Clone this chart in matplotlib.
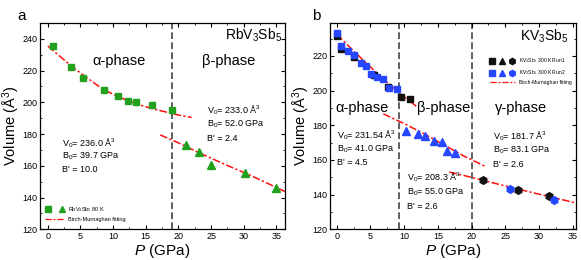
import matplotlib
matplotlib.use('Agg')
import matplotlib.pyplot as plt
from matplotlib.lines import Line2D
from matplotlib.legend_handler import HandlerTuple
from matplotlib.ticker import MultipleLocator

plt.rcParams['font.family'] = ['Liberation Sans', 'DejaVu Sans']
plt.rcParams['mathtext.fontset'] = 'custom'
plt.rcParams['mathtext.rm'] = 'Liberation Sans'
plt.rcParams['mathtext.it'] = 'Liberation Sans:italic'

# ---- panel a: RbV3Sb5, 80 K ----
a_alpha_P = [0.8, 3.5, 5.4, 8.6, 10.8, 12.2, 13.5, 16.0, 19.0]
a_alpha_V = [235.6, 222.5, 215.6, 207.8, 204.0, 201.0, 200.0, 198.6, 195.2]
a_beta_P = [21.2, 23.1, 25.0, 30.2, 35.0]
a_beta_V = [173.0, 168.8, 160.6, 155.6, 146.0]

# fitted curves
a_fit1_P = [0, 2, 4, 6, 8, 10, 12, 14, 16, 18, 20, 22]
a_fit1_V = [235.5, 228.5, 221.5, 215.5, 209.5, 205.0, 201.5, 198.5, 196.0, 194.0, 192.0, 190.5]
a_fit2_P = [17.2, 20, 22.5, 25, 27.5, 30, 32.5, 35, 36.3]
a_fit2_V = [179.5, 174.5, 169.5, 164.8, 160.2, 155.8, 151.2, 146.3, 143.8]
a_bound = [19.0]

# ---- panel b: KV3Sb5, 300 K ----
b_r1_sq_P = [0.0, 0.65, 2.6, 5.5, 7.6, 9.6, 10.8]
b_r1_sq_V = [231.6, 223.9, 219.3, 208.9, 202.0, 196.2, 195.0]
b_r2_sq_P = [0.0, 0.7, 1.6, 2.5, 3.6, 4.4, 5.1, 6.0, 6.9, 7.7, 9.0]
b_r2_sq_V = [233.1, 225.8, 223.1, 220.6, 216.2, 214.3, 209.6, 207.7, 206.9, 201.6, 201.0]
b_r2_tri_P = [10.3, 12.0, 13.1, 14.4, 15.6, 16.3, 17.5]
b_r2_tri_V = [176.6, 174.9, 173.7, 170.9, 170.5, 165.1, 163.8]
b_r1_hex_P = [21.7, 26.9, 31.5]
b_r1_hex_V = [148.6, 142.7, 139.5]
b_r2_hex_P = [25.7, 32.3]
b_r2_hex_V = [143.3, 137.1]

b_fit1_P = [0, 2, 4, 6, 8, 10, 11.8]
b_fit1_V = [232.5, 224.8, 217.3, 210.0, 203.0, 196.5, 191.0]
b_fit2_P = [6.9, 10, 13, 16, 19, 22.2]
b_fit2_V = [186.6, 181.0, 175.0, 168.5, 162.0, 156.0]
b_fit3_P = [16.7, 20, 25, 30, 35.5]
b_fit3_V = [153.0, 150.0, 145.0, 140.3, 135.2]
b_bounds = [9.25, 20.0]

green = '#22a11e'
blue = '#2447ff'
black = '#111111'
red = '#ff1010'
fit_ls = (0, (5, 1.5, 1.5, 1.5))

fig = plt.figure(figsize=(5.81, 2.6), dpi=100)
ax_a = fig.add_axes([0.0688, 0.118, 0.4217, 0.7935])
ax_b = fig.add_axes([0.568, 0.118, 0.4234, 0.7935])


def style(ax):
    ax.tick_params(which='both', direction='in', top=True, right=True, labelsize=6.5, pad=2)
    ax.tick_params(which='major', length=3, width=0.8)
    ax.tick_params(which='minor', length=1.6, width=0.6)
    ax.xaxis.set_major_locator(MultipleLocator(5))
    ax.xaxis.set_minor_locator(MultipleLocator(2.5))
    ax.yaxis.set_major_locator(MultipleLocator(20))
    ax.yaxis.set_minor_locator(MultipleLocator(10))
    for s in ax.spines.values():
        s.set_linewidth(0.9)
    ax.set_xlabel('$P$ (GPa)', fontsize=11, labelpad=1)
    ax.set_ylabel('Volume (Å$^3$)', fontsize=10.5, labelpad=0)


# panel a
ax = ax_a
ax.plot(a_fit1_P, a_fit1_V, color=red, lw=1.1, ls=fit_ls, zorder=2)
ax.plot(a_fit2_P, a_fit2_V, color=red, lw=1.1, ls=fit_ls, zorder=2)
ax.plot(a_alpha_P, a_alpha_V, 's', color=green, ms=5, zorder=3)
ax.plot(a_beta_P, a_beta_V, '^', color=green, ms=6, zorder=3)
for x in a_bound:
    ax.axvline(x, color='#444444', lw=1.2, ls=(0, (4, 2)), zorder=1)
ax.set_xlim(-1.2, 36.3)
ax.set_ylim(120, 250)
style(ax)
ax.text(10.9, 226, 'α-phase', fontsize=10.5, ha='center', va='center')
ax.text(27.7, 226, 'β-phase', fontsize=10.5, ha='center', va='center')
ax.text(35.8, 242, 'RbV$_3$Sb$_5$', fontsize=10, ha='right', va='center')
pa = dict(fontsize=6.5, ha='left', va='center')
ax.text(24.3, 195.2, 'V$_0$= 233.0 Å$^3$', **pa)
ax.text(24.3, 185.9, 'B$_0$= 52.0 GPa', **pa)
ax.text(24.3, 177.4, "B' = 2.4", **pa)
ax.text(2.1, 174.4, 'V$_0$= 236.0 Å$^3$', **pa)
ax.text(2.1, 166.2, 'B$_0$= 39.7 GPa', **pa)
ax.text(2.1, 158.0, "B' = 10.0", **pa)

h_sq = Line2D([], [], marker='s', ls='none', color=green, ms=4)
h_tri = Line2D([], [], marker='^', ls='none', color=green, ms=5)
h_fit = Line2D([], [], color=red, lw=0.9, ls=fit_ls)
ax.legend([(h_sq, h_tri), h_fit], ['RbV$_3$Sb$_5$ 80 K', 'Birch-Murnaghan fitting'],
          handler_map={tuple: HandlerTuple(ndivide=None, pad=1.2)},
          loc='lower left', bbox_to_anchor=(0.0, 0.01), frameon=False, fontsize=4,
          handlelength=3.6, handletextpad=0.6, labelspacing=0.6)

# panel b
ax = ax_b
ax.plot(b_fit1_P, b_fit1_V, color=red, lw=1.1, ls=fit_ls, zorder=2)
ax.plot(b_fit2_P, b_fit2_V, color=red, lw=1.1, ls=fit_ls, zorder=2)
ax.plot(b_fit3_P, b_fit3_V, color=red, lw=1.1, ls=fit_ls, zorder=2)
ax.plot(b_r1_sq_P, b_r1_sq_V, 's', color=black, ms=5, zorder=3)
ax.plot(b_r2_sq_P, b_r2_sq_V, 's', color=blue, ms=5, zorder=4)
ax.plot(b_r2_tri_P, b_r2_tri_V, '^', color=blue, ms=6, zorder=4)
ax.plot(b_r1_hex_P, b_r1_hex_V, 'h', color=black, ms=5.5, zorder=3)
ax.plot(b_r2_hex_P, b_r2_hex_V, 'h', color=blue, ms=5.5, zorder=4)
for x in b_bounds:
    ax.axvline(x, color='#444444', lw=1.2, ls=(0, (4, 2)), zorder=1)
ax.set_xlim(-1.0, 35.5)
ax.set_ylim(120, 239)
style(ax)
ax.text(3.8, 190, 'α-phase', fontsize=10.5, ha='center', va='center')
ax.text(15.9, 190, 'β-phase', fontsize=10.5, ha='center', va='center')
ax.text(27.3, 190, 'γ-phase', fontsize=10.5, ha='center', va='center')
ax.text(34.4, 231.6, 'KV$_3$Sb$_5$', fontsize=10, ha='right', va='center')
ax.text(0.05, 174.4, 'V$_0$= 231.54 Å$^3$', **pa)
ax.text(0.05, 166.4, 'B$_0$= 41.0 GPa', **pa)
ax.text(0.05, 158.5, "B' = 4.5", **pa)
ax.text(10.4, 149.8, 'V$_0$= 208.3 Å$^3$', **pa)
ax.text(10.4, 141.4, 'B$_0$= 55.0 GPa', **pa)
ax.text(10.4, 133.1, "B' = 2.6", **pa)
ax.text(23.2, 173.9, 'V$_0$= 181.7 Å$^3$', **pa)
ax.text(23.2, 165.8, 'B$_0$= 83.1 GPa', **pa)
ax.text(23.2, 157.5, "B' = 2.6", **pa)

hk = [Line2D([], [], marker=m, ls='none', color=black, ms=s) for m, s in (('s', 4), ('^', 5), ('h', 4.5))]
hb = [Line2D([], [], marker=m, ls='none', color=blue, ms=s) for m, s in (('s', 4), ('^', 5), ('h', 4.5))]
ax.legend([tuple(hk), tuple(hb), h_fit],
          ['KV$_3$Sb$_5$ 300 K Run1', 'KV$_3$Sb$_5$ 300 K Run2', 'Birch-Murnaghan fitting'],
          handler_map={tuple: HandlerTuple(ndivide=None, pad=1.0)},
          loc='upper right', bbox_to_anchor=(1.0, 0.86), frameon=False, fontsize=3.6,
          handlelength=5.0, handletextpad=0.8, labelspacing=0.6)

fig.text(17 / 581, 1 - 20 / 260, 'a', fontsize=11)
fig.text(312 / 581, 1 - 20 / 260, 'b', fontsize=11)

fig.savefig('out.png', dpi=100)
